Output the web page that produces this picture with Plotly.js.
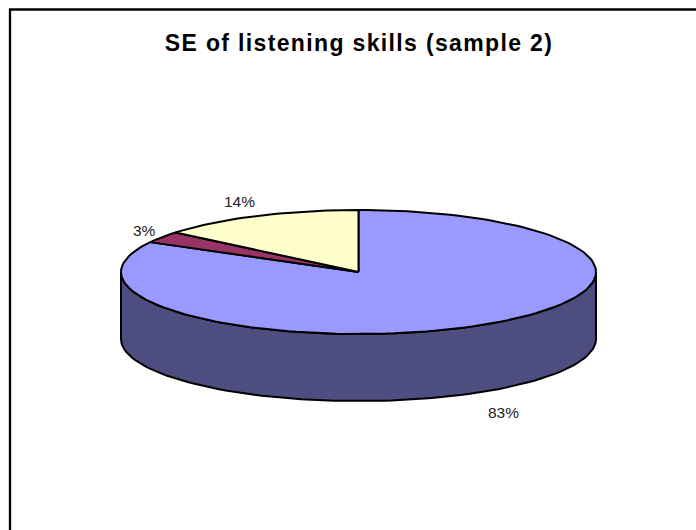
<!DOCTYPE html>
<html>
<head>
<meta charset="utf-8">
<script src="https://cdn.plot.ly/plotly-3.0.1.min.js"></script>
<style>
html,body{margin:0;padding:0;background:#fff}
#chart{width:696px;height:530px}
.gtitle{letter-spacing:1.35px}
</style>
</head>
<body>
<div id="chart"></div>
<script>
// Slice shares, clockwise from twelve o'clock
const sliceValues = [83, 3, 14];
const sliceColors = ['#9999FF', '#993366', '#FFFFCC'];
const wallColor = '#4D4D80';
const outline = '#000000';
const labelColor = '#222222';
// Label offsets from the rim at each slice's middle angle
const labelDx = [24, -18, -18];
const labelDy = [20, -7, -14];
const chartTitle = 'SE of listening skills (sample 2)';

// Tilted disc: centre, semi-axes and wall height in axis units
const cx = 358.5, cy = 272, rx = 237.5, ry = 62, depth = 67;
const rim = (deg, dz) => {
  const t = deg * Math.PI / 180;
  return [cx + rx * Math.sin(t), cy - ry * Math.cos(t) + (dz || 0)];
};
const arc = (from, to, dz) => {
  const pts = [];
  const n = Math.max(2, Math.ceil(Math.abs(to - from) / 2));
  for (let i = 0; i <= n; i++) pts.push(rim(from + (to - from) * i / n, dz));
  return pts;
};
const polygon = (pts, color) => ({
  type: 'scatter', mode: 'lines', fill: 'toself', fillcolor: color,
  x: pts.map(p => p[0]), y: pts.map(p => p[1]),
  line: {color: outline, width: 2, shape: 'linear'},
  hoverinfo: 'skip', showlegend: false
});

const total = sliceValues.reduce((a, b) => a + b, 0);
const traces = [];
const annotations = [];

// The visible wall runs along the front half of the rim
const wall = arc(90, 270, 0).concat(arc(270, 90, depth));
wall.push(wall[0]);
traces.push(polygon(wall, wallColor));

let start = 0;
sliceValues.forEach((v, i) => {
  const end = start + 360 * v / total;
  const pts = [[cx, cy]].concat(arc(start, end, 0));
  pts.push([cx, cy]);
  traces.push(polygon(pts, sliceColors[i]));
  const mid = (start + end) / 2;
  const front = Math.cos(mid * Math.PI / 180) < 0;
  const p = rim(mid, front ? depth : 0);
  annotations.push({
    x: p[0] + labelDx[i], y: p[1] + labelDy[i], xref: 'x', yref: 'y',
    text: v + '%', showarrow: false, xanchor: 'center', yanchor: 'middle',
    font: {family: '"Liberation Sans", Arial, sans-serif', size: 15.5, color: labelColor}
  });
  start = end;
});

const layout = {
  width: 696, height: 530,
  margin: {l: 0, r: 0, t: 0, b: 0},
  paper_bgcolor: '#FFFFFF', plot_bgcolor: '#FFFFFF',
  showlegend: false,
  title: {
    text: '<b>' + chartTitle + '</b>',
    font: {family: '"Liberation Sans", Arial, sans-serif', size: 23, color: '#000000'},
    x: 359 / 696, xanchor: 'center', xref: 'paper',
    y: 1 - 43 / 530, yanchor: 'middle', yref: 'container'
  },
  xaxis: {range: [0, 696], visible: false, fixedrange: true},
  yaxis: {range: [530, 0], visible: false, fixedrange: true},
  annotations: annotations,
  shapes: [{
    type: 'path', path: 'M 10 530 L 10 9.5 L 696 9.5',
    xref: 'x', yref: 'y', line: {color: '#000000', width: 2.3}
  }]
};

Plotly.newPlot('chart', traces, layout, {displayModeBar: false, staticPlot: true});
</script>
</body>
</html>
